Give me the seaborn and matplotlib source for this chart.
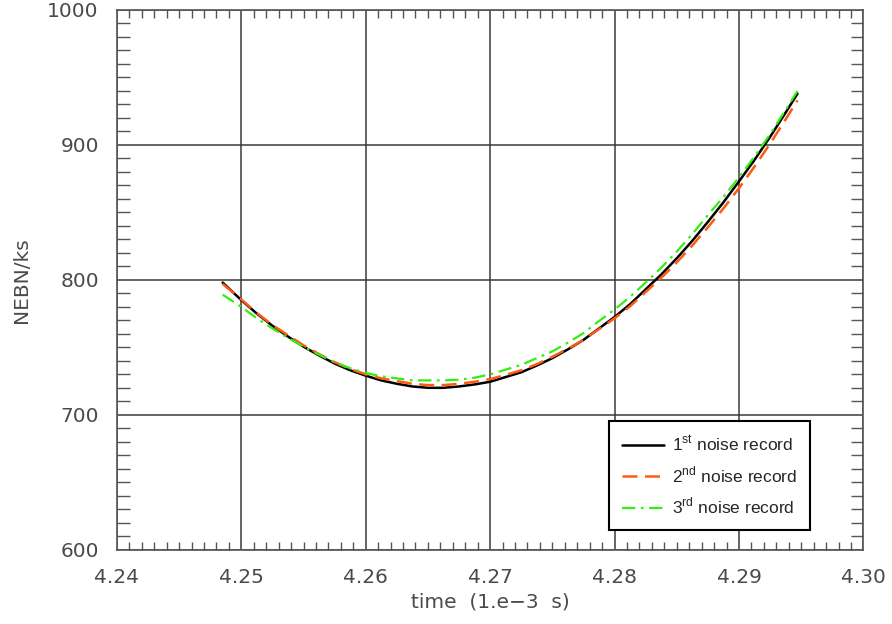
"""Recreate NEBN vs time chart for three noise records."""
import matplotlib
matplotlib.use('Agg')
import matplotlib.pyplot as plt
from matplotlib.ticker import MultipleLocator
import seaborn as sns

# values
time_grid = [4.2485, 4.2500, 4.25125, 4.2525, 4.25375, 4.2550, 4.25625,
             4.2575, 4.25875, 4.2600, 4.26125, 4.2625, 4.26375, 4.2650,
             4.26625, 4.2675, 4.26875, 4.2700, 4.27125, 4.2725, 4.27375,
             4.2750, 4.27625, 4.2775, 4.27875, 4.2800, 4.28125, 4.2825,
             4.28375, 4.2850, 4.28625, 4.2875, 4.28875, 4.2900, 4.29125,
             4.2925, 4.29375, 4.2947]
nebn_1 = [798, 785, 775, 766, 758, 750.5, 744, 738, 733, 729, 725.5, 723,
          721, 720, 720, 721, 722.5, 724.5, 728, 731.5, 736.5, 742, 748.5,
          755.5, 764, 772.5, 782, 793, 804, 816, 829, 843, 857.5, 873, 889,
          906, 924, 938]
nebn_2 = [797, 785.5, 775.5, 766.5, 759, 751.5, 745, 739, 734, 730, 727,
          725, 723, 722, 722, 723, 724.5, 726.5, 729.5, 733, 737.5, 743,
          749, 755.5, 763.5, 771.5, 780.5, 791, 801.5, 813, 825.5, 839, 853,
          868, 884, 901, 919, 933]
nebn_3 = [789, 780, 771.5, 764, 757, 750.5, 744.5, 739, 734.5, 731, 728.5,
          727, 725.5, 725.5, 725.5, 726, 727.5, 730, 733.5, 737, 742, 747,
          753.5, 760.5, 769.5, 778, 787.5, 798, 809, 821, 834, 848, 861.5,
          876, 891.5, 908, 926, 940]

labels = ['1$^{\\mathrm{st}}$ noise record',
          '2$^{\\mathrm{nd}}$ noise record',
          '3$^{\\mathrm{rd}}$ noise record']

sns.set_style('white')
plt.rcParams['font.family'] = ['DejaVu Sans']
plt.rcParams['mathtext.fontset'] = 'custom'
plt.rcParams['mathtext.rm'] = 'Liberation Sans'

fig = plt.figure(figsize=(8.92, 6.24), dpi=100)
ax = fig.add_axes([0.131, 0.119, 0.837, 0.865])

axis_col = '#555555'
text_col = '#4a4a4a'
sns.lineplot(x=time_grid, y=nebn_1, ax=ax, color='black', linewidth=1.8,
             label=labels[0], sort=False)
sns.lineplot(x=time_grid, y=nebn_2, ax=ax, color='#ff5a14', linewidth=1.8,
             label=labels[1], sort=False, linestyle=(0, (6, 3)))
sns.lineplot(x=time_grid, y=nebn_3, ax=ax, color='#33ee11', linewidth=1.6,
             label=labels[2], sort=False, linestyle=(0, (6, 2.5, 1.2, 2.5)))

ax.set_xlim(4.24, 4.30)
ax.set_ylim(600, 1000)
ax.xaxis.set_major_locator(MultipleLocator(0.01))
ax.xaxis.set_minor_locator(MultipleLocator(0.001))
ax.yaxis.set_major_locator(MultipleLocator(100))
ax.yaxis.set_minor_locator(MultipleLocator(10))
ax.set_xticks(ax.get_xticks())
ax.set_xticklabels([f'{v:.2f}' for v in ax.get_xticks()])
ax.set_xlim(4.24, 4.30)
ax.grid(True, which='major', color='#3a3a3a', linewidth=1.1)
ax.set_axisbelow(True)

ax.tick_params(which='both', direction='in', top=True, right=True,
               bottom=True, left=True,
               colors=axis_col, labelcolor=text_col, labelsize=14.5)
ax.tick_params(which='major', length=0)
ax.tick_params(axis='x', which='major', pad=13)
ax.tick_params(axis='y', which='major', pad=13)
ax.tick_params(axis='x', which='minor', length=6, width=1)
ax.tick_params(axis='y', which='minor', length=9, width=1)
for sp in ax.spines.values():
    sp.set_color(axis_col)
    sp.set_linewidth(1.2)

ax.set_xlabel('time  (1.e\u22123  s)', fontsize=14.5, color=text_col,
              labelpad=4)
ax.set_ylabel('NEBN/ks', fontsize=14.5, color=text_col, labelpad=12)

leg = ax.legend(loc='lower right', bbox_to_anchor=(0.929, 0.037),
                frameon=True, fancybox=False,
                handlelength=2.4, labelspacing=0.62, borderpad=0.75,
                handletextpad=0.5, borderaxespad=0,
                prop={'family': 'Liberation Sans', 'size': 12.5})
leg.get_frame().set_edgecolor('black')
leg.get_frame().set_linewidth(1.5)
leg.get_frame().set_alpha(1)

fig.savefig('out.png', dpi=100)
